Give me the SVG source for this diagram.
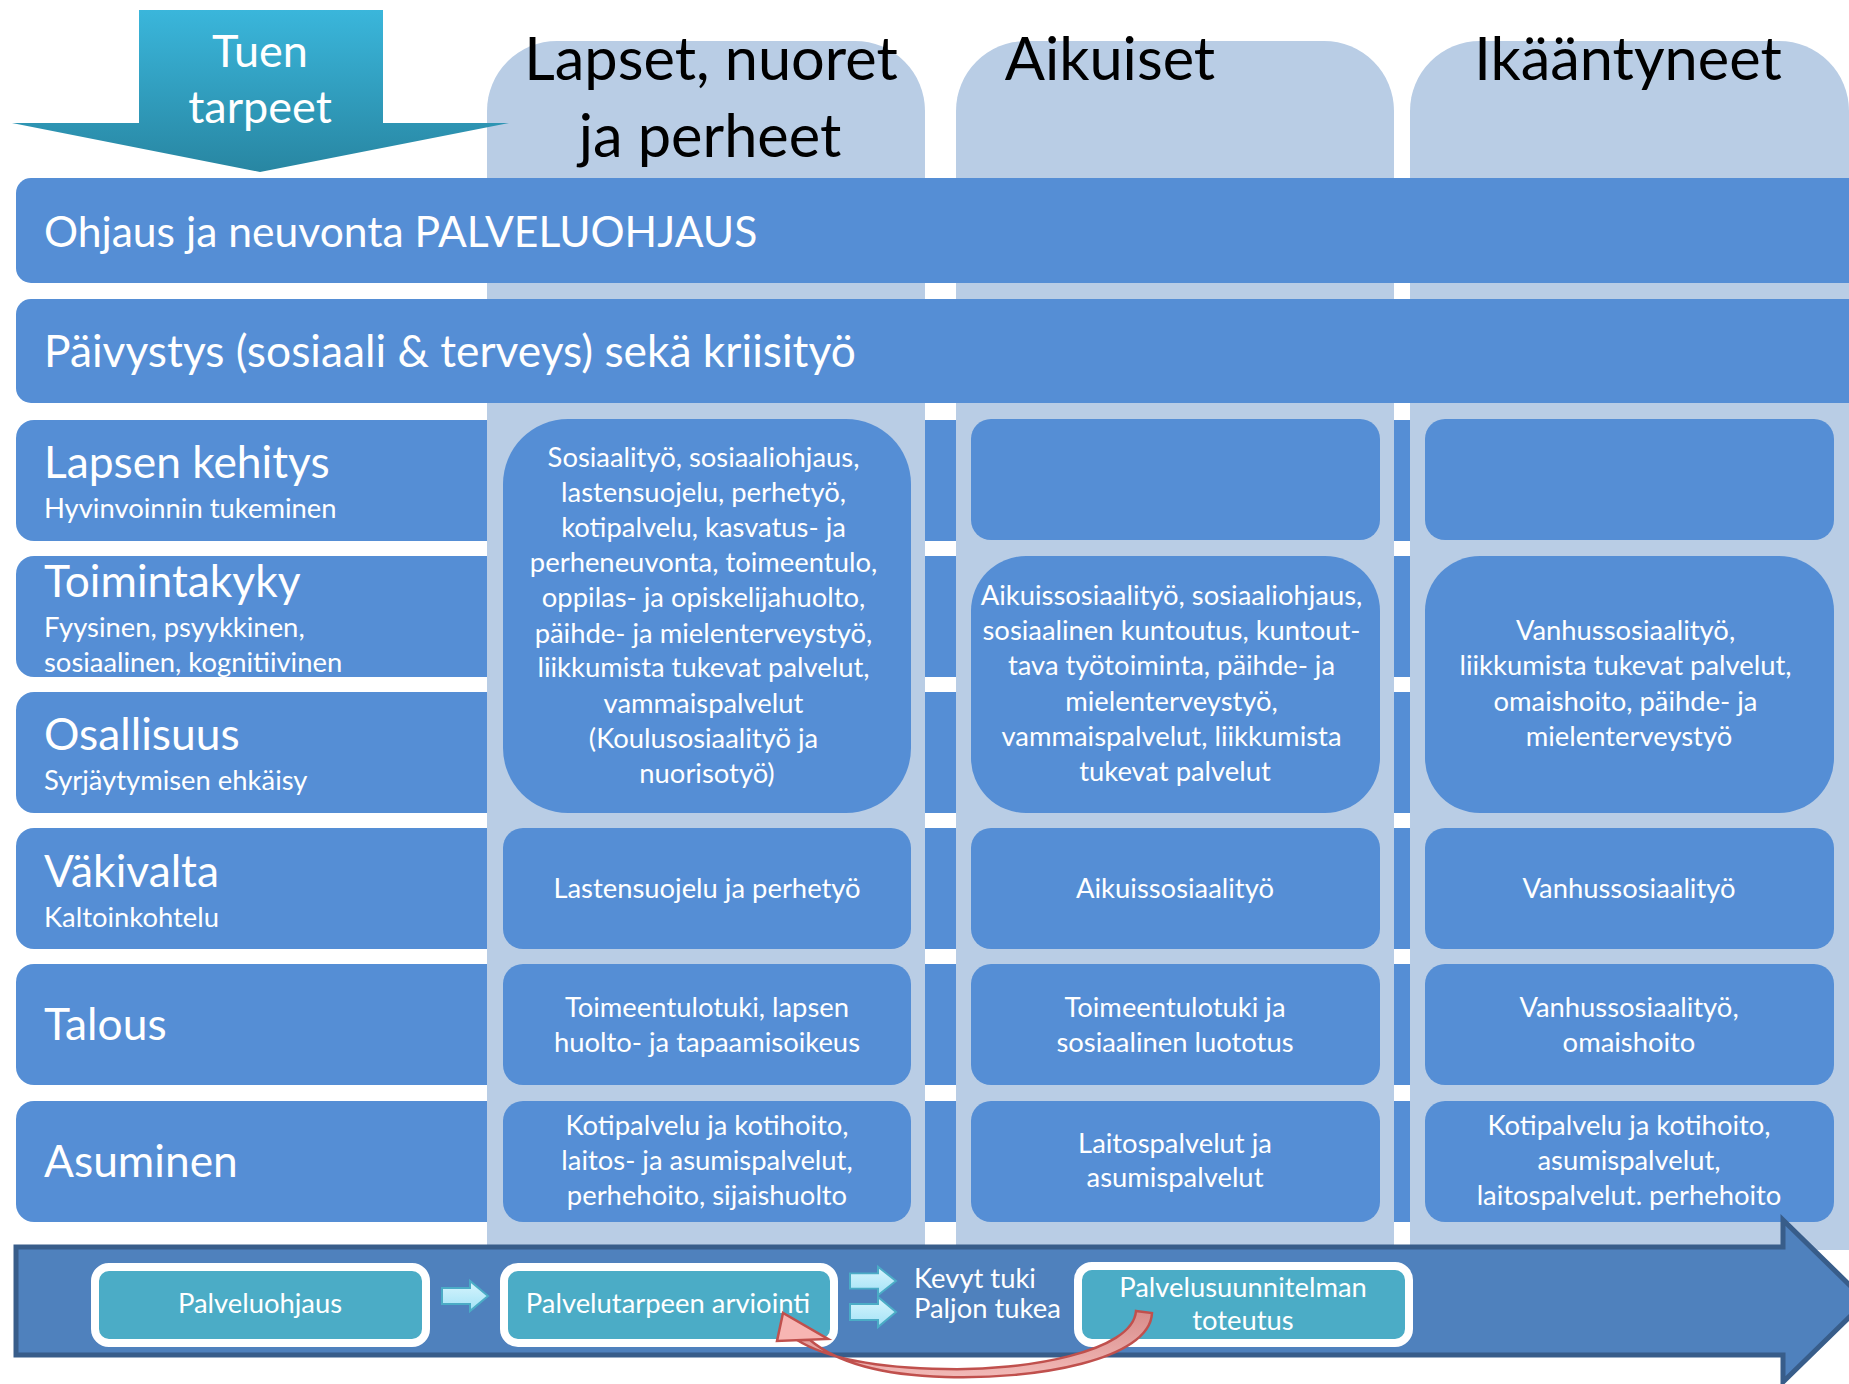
<svg xmlns="http://www.w3.org/2000/svg" width="1849" height="1384" viewBox="0 0 1849 1384">
<defs>
  <linearGradient id="tuenGrad" x1="0" y1="0" x2="0" y2="1">
    <stop offset="0" stop-color="#3AB6DB"/>
    <stop offset="1" stop-color="#2886A2"/>
  </linearGradient>
  <linearGradient id="cyanGrad" x1="0" y1="0" x2="0" y2="1">
    <stop offset="0" stop-color="#D8F5FD"/>
    <stop offset="1" stop-color="#A2E2F6"/>
  </linearGradient>
  <linearGradient id="pinkGrad" x1="0" y1="0" x2="0" y2="1">
    <stop offset="0" stop-color="#D88C8A"/>
    <stop offset="1" stop-color="#F2B9B7"/>
  </linearGradient>
  <path id="smallArrow" d="M0,-8 H28 V-15 L46,0 L28,15 V8 H0 Z"/>
</defs>
<style>
  text{font-family:Lato,"Liberation Sans",sans-serif}
  .col{fill:#B9CDE5}
  .band{fill:#558ED5}
  .cell{fill:#558ED5}
  .hdr{font-size:59.5px;fill:#000;text-anchor:middle}
  .big{font-size:44.3px;fill:#fff}
  .sub{font-size:27.4px;fill:#fff}
  .ct{font-size:27.4px;fill:#fff;text-anchor:middle}
  .step{fill:#4BACC6;stroke:#fff;stroke-width:8}
  .st{font-size:27.4px;fill:#fff;text-anchor:middle}
  .sa{fill:url(#cyanGrad);stroke:#4BACC6;stroke-width:2}
</style>

<g id="row-bands">
  <rect class="band" x="16" y="420" width="1833" height="121" rx="18"/>
  <rect class="band" x="16" y="556" width="1833" height="121" rx="18"/>
  <rect class="band" x="16" y="692" width="1833" height="121" rx="18"/>
  <rect class="band" x="16" y="828" width="1833" height="121" rx="18"/>
  <rect class="band" x="16" y="964" width="1833" height="121" rx="18"/>
  <rect class="band" x="16" y="1101" width="1833" height="121" rx="18"/>
</g>

<g id="columns">
  <g id="col-lapset">
    <path class="col" d="M487,1250 V111 A70,70 0 0 1 557,41 H855 A70,70 0 0 1 925,111 V1250 Z"/>
    <text class="hdr" x="711" y="80">Lapset, nuoret</text>
    <text class="hdr" x="710" y="157">ja perheet</text>
  </g>
  <g id="col-aikuiset">
    <path class="col" d="M956,1250 V111 A70,70 0 0 1 1026,41 H1324 A70,70 0 0 1 1394,111 V1250 Z"/>
    <text class="hdr" x="1110" y="80">Aikuiset</text>
  </g>
  <g id="col-ikaantyneet">
    <path class="col" d="M1410,1250 V111 A70,70 0 0 1 1480,41 H1779 A70,70 0 0 1 1849,111 V1250 Z"/>
    <text class="hdr" x="1628" y="80">Ikääntyneet</text>
  </g>
</g>

<g id="band-ohjaus">
  <rect class="band" x="16" y="178" width="1850" height="105" rx="15"/>
  <text class="big" x="44" y="247" style="font-size:42.6px">Ohjaus ja neuvonta PALVELUOHJAUS</text>
</g>
<g id="band-paivystys">
  <rect class="band" x="16" y="299" width="1850" height="104" rx="15"/>
  <text class="big" x="44" y="367">Päivystys (sosiaali &amp; terveys) sekä kriisityö</text>
</g>

<g id="row-labels">
  <g id="label-lapsen">
    <text class="big" x="44" y="478">Lapsen kehitys</text>
    <text class="sub" x="44" y="518">Hyvinvoinnin tukeminen</text>
  </g>
  <g id="label-toimintakyky">
    <text class="big" x="44" y="597">Toimintakyky</text>
    <text class="sub" x="44" y="637">Fyysinen, psyykkinen,</text>
    <text class="sub" x="44" y="672">sosiaalinen, kognitiivinen</text>
  </g>
  <g id="label-osallisuus">
    <text class="big" x="44" y="750">Osallisuus</text>
    <text class="sub" x="44" y="790">Syrjäytymisen ehkäisy</text>
  </g>
  <g id="label-vakivalta">
    <text class="big" x="44" y="887">Väkivalta</text>
    <text class="sub" x="44" y="927">Kaltoinkohtelu</text>
  </g>
  <g id="label-talous">
    <text class="big" x="44" y="1040">Talous</text>
  </g>
  <g id="label-asuminen">
    <text class="big" x="44" y="1177">Asuminen</text>
  </g>
</g>

<g id="cells">
  <g id="cell-l-big">
    <rect class="cell" x="503" y="419" width="408" height="394" rx="65"/>
    <text class="ct" x="707">
      <tspan x="707" y="467">Sosiaalityö, sosiaaliohjaus,</tspan>
      <tspan x="707" y="502">lastensuojelu, perhetyö,</tspan>
      <tspan x="707" y="537">kotipalvelu, kasvatus- ja</tspan>
      <tspan x="707" y="572">perheneuvonta, toimeentulo,</tspan>
      <tspan x="707" y="607">oppilas- ja opiskelijahuolto,</tspan>
      <tspan x="707" y="643">päihde- ja mielenterveystyö,</tspan>
      <tspan x="707" y="677">liikkumista tukevat palvelut,</tspan>
      <tspan x="707" y="713">vammaispalvelut</tspan>
      <tspan x="707" y="748">(Koulusosiaalityö ja</tspan>
      <tspan x="707" y="783">nuorisotyö)</tspan>
    </text>
  </g>
  <g id="cell-a-top"><rect class="cell" x="971" y="419" width="409" height="121" rx="20"/></g>
  <g id="cell-a-big">
    <rect class="cell" x="971" y="556" width="409" height="257" rx="55"/>
    <text class="ct">
      <tspan x="1175" y="605">Aikuissosiaalityö, sosiaaliohjaus,</tspan>
      <tspan x="1175" y="640">sosiaalinen kuntoutus, kuntout-</tspan>
      <tspan x="1175" y="675">tava työtoiminta, päihde- ja</tspan>
      <tspan x="1175" y="711">mielenterveystyö,</tspan>
      <tspan x="1175" y="746">vammaispalvelut, liikkumista</tspan>
      <tspan x="1175" y="781">tukevat palvelut</tspan>
    </text>
  </g>
  <g id="cell-i-top"><rect class="cell" x="1425" y="419" width="409" height="121" rx="20"/></g>
  <g id="cell-i-big">
    <rect class="cell" x="1425" y="556" width="409" height="257" rx="55"/>
    <text class="ct">
      <tspan x="1629" y="640">Vanhussosiaalityö,</tspan>
      <tspan x="1629" y="675">liikkumista tukevat palvelut,</tspan>
      <tspan x="1629" y="711">omaishoito, päihde- ja</tspan>
      <tspan x="1629" y="746">mielenterveystyö</tspan>
    </text>
  </g>

  <g id="cell-l-vak">
    <rect class="cell" x="503" y="828" width="408" height="121" rx="20"/>
    <text class="ct" x="707" y="898">Lastensuojelu ja perhetyö</text>
  </g>
  <g id="cell-a-vak">
    <rect class="cell" x="971" y="828" width="409" height="121" rx="20"/>
    <text class="ct" x="1175" y="898">Aikuissosiaalityö</text>
  </g>
  <g id="cell-i-vak">
    <rect class="cell" x="1425" y="828" width="409" height="121" rx="20"/>
    <text class="ct" x="1629" y="898">Vanhussosiaalityö</text>
  </g>

  <g id="cell-l-tal">
    <rect class="cell" x="503" y="964" width="408" height="121" rx="20"/>
    <text class="ct"><tspan x="707" y="1017">Toimeentulotuki, lapsen</tspan><tspan x="707" y="1052">huolto- ja tapaamisoikeus</tspan></text>
  </g>
  <g id="cell-a-tal">
    <rect class="cell" x="971" y="964" width="409" height="121" rx="20"/>
    <text class="ct"><tspan x="1175" y="1017">Toimeentulotuki ja</tspan><tspan x="1175" y="1052">sosiaalinen luototus</tspan></text>
  </g>
  <g id="cell-i-tal">
    <rect class="cell" x="1425" y="964" width="409" height="121" rx="20"/>
    <text class="ct"><tspan x="1629" y="1017">Vanhussosiaalityö,</tspan><tspan x="1629" y="1052">omaishoito</tspan></text>
  </g>

  <g id="cell-l-asu">
    <rect class="cell" x="503" y="1101" width="408" height="121" rx="20"/>
    <text class="ct"><tspan x="707" y="1135">Kotipalvelu ja kotihoito,</tspan><tspan x="707" y="1170">laitos- ja asumispalvelut,</tspan><tspan x="707" y="1205">perhehoito, sijaishuolto</tspan></text>
  </g>
  <g id="cell-a-asu">
    <rect class="cell" x="971" y="1101" width="409" height="121" rx="20"/>
    <text class="ct"><tspan x="1175" y="1153">Laitospalvelut ja</tspan><tspan x="1175" y="1187">asumispalvelut</tspan></text>
  </g>
  <g id="cell-i-asu">
    <rect class="cell" x="1425" y="1101" width="409" height="121" rx="20"/>
    <text class="ct"><tspan x="1629" y="1135">Kotipalvelu ja kotihoito,</tspan><tspan x="1629" y="1170">asumispalvelut,</tspan><tspan x="1629" y="1205">laitospalvelut. perhehoito</tspan></text>
  </g>
</g>

<g id="tuen-tarpeet">
  <path d="M139,10 H383 V123 H509 L260,172 L12,123 H139 Z" fill="url(#tuenGrad)"/>
  <text x="260" y="67" font-size="45" fill="#fff" text-anchor="middle">Tuen</text>
  <text x="260" y="123" font-size="45" fill="#fff" text-anchor="middle">tarpeet</text>
</g>

<g id="process-arrow">
  <path d="M16,1247 H1783 V1220 L1866,1301 L1783,1382 V1355 H16 Z" fill="#4F81BD" stroke="#385D8A" stroke-width="5"/>
</g>

<g id="step-palveluohjaus">
  <rect class="step" x="95" y="1267" width="331" height="76" rx="14"/>
  <text class="st" x="260" y="1313">Palveluohjaus</text>
</g>
<g id="step-arviointi">
  <rect class="step" x="504" y="1267" width="330" height="76" rx="14"/>
  <text class="st" x="668" y="1313">Palvelutarpeen arviointi</text>
</g>
<g id="step-kevyt">
  <text class="sub" x="914" y="1288">Kevyt tuki</text>
  <text class="sub" x="914" y="1318">Paljon tukea</text>
</g>
<g id="step-toteutus">
  <rect class="step" x="1078" y="1266" width="331" height="77" rx="14"/>
  <text class="st"><tspan x="1243" y="1297">Palvelusuunnitelman</tspan><tspan x="1243" y="1330">toteutus</tspan></text>
</g>

<g id="connectors">
  <use href="#smallArrow" class="sa" transform="translate(442,1296)"/>
  <use href="#smallArrow" class="sa" transform="translate(850,1281) scale(1,0.95)"/>
  <use href="#smallArrow" class="sa" transform="translate(850,1312)"/>
  <path d="M1136,1311 L1152,1313 C1150,1360 1035,1380 945,1377 C878,1375 836,1362 810,1340 L797,1340 C826,1358 876,1368 945,1369 C1025,1371 1133,1352 1136,1311 Z" fill="url(#pinkGrad)" stroke="#C0504D" stroke-width="2.5"/>
  <polygon points="783,1313 777,1341 828,1339" fill="#F7B5B3" stroke="#C0504D" stroke-width="2.5"/>
</g>
</svg>
